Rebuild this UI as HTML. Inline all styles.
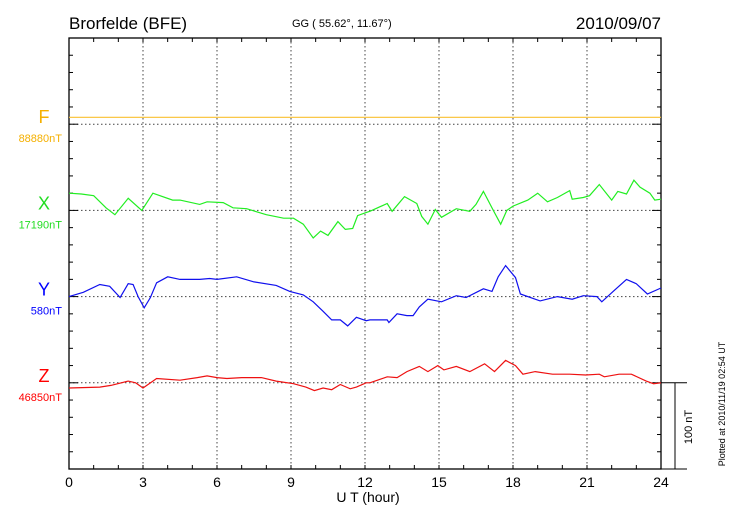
<!DOCTYPE html>
<html><head><meta charset="utf-8"><style>
body{margin:0;background:#fff;}
svg{display:block;font-family:"Liberation Sans",sans-serif;}
</style></head><body>
<svg id="chart" width="730" height="520" viewBox="0 0 730 520" xmlns="http://www.w3.org/2000/svg">
<text x="69" y="29" font-size="17">Brorfelde (BFE)</text>
<text x="292" y="27" font-size="11">GG ( 55.62°,  11.67°)</text>
<text x="661" y="29" font-size="17" text-anchor="end">2010/09/07</text>
<text x="368" y="502" font-size="14" text-anchor="middle">U T (hour)</text>
<text transform="translate(692,427) rotate(-90)" font-size="11" text-anchor="middle">100 nT</text>
<text transform="translate(725,404) rotate(-90)" font-size="9" text-anchor="middle">Plotted at 2010/11/19 02:54 UT</text>
<g id="g"></g>
</svg>
<script>
const hourTicks=[0,3,6,9,12,15,18,21,24];
const fHours=[0,24];
const fVals=[8,8];
const xHours=[0,0.5,1,1.5,1.86,2.4,2.95,3.4,4.2,4.5,5.3,5.6,6.25,6.65,7.2,8,8.7,9.1,9.5,9.9,10.2,10.5,10.9,11.2,11.5,11.7,12.1,12.2,12.9,13.1,13.6,14.1,14.3,14.55,14.85,15.1,15.7,16.25,16.5,16.8,17.2,17.5,17.75,18,18.6,19,19.4,19.8,20.3,20.4,20.85,21.1,21.5,22,22.25,22.6,22.9,23.15,23.55,23.75,24];
const xVals=[20,19,17,3,-5,14,0,20,12,12,7,10,9,3,2,-5,-9,-9,-16,-32,-24,-29,-13,-22,-21,-6,-2,-1,8,-1,16,8,-7,-16,1,-8,2,-1,7,22,0,-16,0,5,12,20,10,15,23,13,15,17,30,12,22,19,35,27,20,12,13];
const yHours=[0,0.58,1.25,1.65,2.07,2.4,2.6,2.8,3.05,3.3,3.55,4,4.5,5.3,5.7,6,6.8,7.5,8.4,8.95,9.5,9.9,10.3,10.65,11,11.3,11.65,12.05,12.2,12.9,12.97,13.3,13.7,13.95,14.2,14.55,15.1,15.7,16.1,16.8,17.15,17.4,17.7,18.1,18.3,18.8,19.1,19.8,20.4,20.85,21.4,21.6,22.1,22.6,23,23.45,24];
const yVals=[0,5,14,12,-1,15,14,0,-13,-1,16,23,20,20,21,20,23,17,13,6,2,-6,-17,-27,-27,-34,-24,-28,-27,-27,-30,-20,-22,-22,-12,-3,-6,1,-1,9,6,23,36,22,3,-2,-5,0,-3,1,0,-6,7,20,15,3,10];
const zHours=[0,1.25,1.7,2.4,2.7,3,3.4,3.55,4.5,5.2,5.6,6,6.4,7,7.8,8.4,9.1,9.6,9.95,10.3,10.65,11,11.4,11.65,12.05,12.2,12.9,13.3,13.7,14.2,14.55,14.95,15.2,15.7,16.25,16.85,17.25,17.7,18.1,18.4,18.9,19.6,20.3,20.95,21.5,21.7,22.3,22.8,23.4,23.7,24];
const zVals=[-6,-5,-3,2,0,-6,2,5,3,6,8,6,5,6,6,2,-1,-5,-9,-6,-8,-2,-7,-5,0,0,7,6,13,19,13,20,15,19,13,22,13,26,20,10,13,10,10,9,10,7,10,10,2,-1,0];

const L=69,R=661,T=38,B=469,STEP=(B-T)/25,PXNT=STEP/20;
const xs=h=>L+(R-L)*h/24;
const base={F:T+5*STEP,X:T+10*STEP,Y:T+15*STEP,Z:T+20*STEP};
const ys=(k,v)=>base[k]-v*PXNT;
const g=document.getElementById('g');
const NS='http://www.w3.org/2000/svg';
function mk(tag,attrs){const e=document.createElementNS(NS,tag);for(const k in attrs)e.setAttribute(k,attrs[k]);g.appendChild(e);return e;}
// grid
hourTicks.forEach(h=>{if(h>0&&h<24){const e=mk('line',{x1:xs(h),x2:xs(h),y1:T,y2:B,stroke:'#444','stroke-dasharray':'1.5,2.5','stroke-width':1});

}});
['F','X','Y','Z'].forEach(k=>{const e=mk('line',{x1:L,x2:R,y1:base[k],y2:base[k],stroke:'#444','stroke-dasharray':'1.5,2.5','stroke-width':1});

});
// ticks
for(let i=1;i<25;i++){const y=T+i*STEP;const big=i%5==0?9:4;
const a=mk('line',{x1:L,x2:L+big,y1:y,y2:y,stroke:'#000'});


const b=mk('line',{x1:R-big,x2:R,y1:y,y2:y,stroke:'#000'});

}
for(let h=1;h<24;h++){
const a=mk('line',{x1:xs(h),x2:xs(h),y1:T,y2:T+4,stroke:'#000'});


const b=mk('line',{x1:xs(h),x2:xs(h),y1:B-4,y2:B,stroke:'#000'});

}
hourTicks.forEach(h=>{const t=mk('text',{x:xs(h),y:487,'font-size':14,'text-anchor':'middle'});t.textContent=h;

});
// frame
const fr=mk('rect',{x:L,y:T,width:R-L,height:B-T,fill:'none',stroke:'#000','stroke-width':1.3});


// scale bar
const s1=mk('path',{d:`M${R} ${base.Z}H687M${R} ${B}H687M675 ${base.Z}V${B}`,stroke:'#000',fill:'none'});


// series
const series=[['F',fHours,fVals,'#f9c030','#f5b000','88880nT'],['X',xHours,xVals,'#22ee22','#22dd22','17190nT'],['Y',yHours,yVals,'#1010ee','#0000ff','580nT'],['Z',zHours,zVals,'#ee1111','#ff0000','46850nT']];
series.forEach(([k,hs,vs,c,lc,val])=>{
const d=hs.map((h,i)=>(i?'L':'M')+xs(h).toFixed(1)+' '+ys(k,vs[i]).toFixed(1)).join('');
const p=mk('path',{d:d,stroke:c,fill:'none','stroke-width':1.2});


const t=mk('text',{x:44,y:base[k]-1,'font-size':18,fill:lc,'text-anchor':'middle'});t.textContent=k;


const v=mk('text',{x:62,y:base[k]+18,'font-size':11,fill:lc,'text-anchor':'end'});v.textContent=val;


});
</script>
</body></html>
